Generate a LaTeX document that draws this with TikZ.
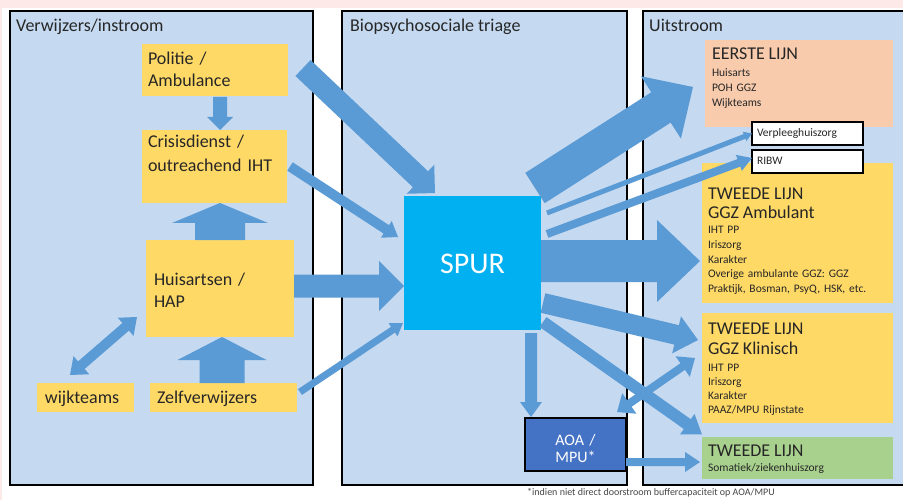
\documentclass[tikz,border=0pt]{standalone}
\usepackage{fontspec}
\setmainfont{Carlito}
\usetikzlibrary{calc}

\definecolor{panelblue}{HTML}{C5D9F0}
\definecolor{boxyellow}{HTML}{FFD966}
\definecolor{boxsalmon}{HTML}{F8CBAD}
\definecolor{boxgreen}{HTML}{A9D18E}
\definecolor{flowblue}{HTML}{5B9BD5}
\definecolor{spurblue}{HTML}{00B0F0}
\definecolor{aoablue}{HTML}{4472C4}
\definecolor{txtdark}{HTML}{262626}
\definecolor{slidepink}{HTML}{FDE9E7}

% block arrow: from, to, half shaft, half head, head length
\newcommand\blockarrow[5]{%
  \coordinate (ba-s) at (#1);
  \coordinate (ba-e) at (#2);
  \coordinate (ba-b) at ($(ba-e)!#5!(ba-s)$);
  \fill[flowblue] ($(ba-s)!#3!90:(ba-e)$) -- ($(ba-b)!#3!90:(ba-e)$)
    -- ($(ba-b)!#4!90:(ba-e)$) -- (ba-e) -- ($(ba-b)!#4!-90:(ba-e)$)
    -- ($(ba-b)!#3!-90:(ba-e)$) -- ($(ba-s)!#3!-90:(ba-e)$) -- cycle;}
% same, with a head on both ends
\newcommand\dblockarrow[5]{%
  \coordinate (ba-s) at (#1);
  \coordinate (ba-e) at (#2);
  \coordinate (ba-b) at ($(ba-e)!#5!(ba-s)$);
  \coordinate (ba-c) at ($(ba-s)!#5!(ba-e)$);
  \fill[flowblue] (ba-s) -- ($(ba-c)!#4!90:(ba-e)$) -- ($(ba-c)!#3!90:(ba-e)$)
    -- ($(ba-b)!#3!90:(ba-e)$) -- ($(ba-b)!#4!90:(ba-e)$) -- (ba-e)
    -- ($(ba-b)!#4!-90:(ba-e)$) -- ($(ba-b)!#3!-90:(ba-e)$)
    -- ($(ba-c)!#3!-90:(ba-e)$) -- ($(ba-c)!#4!-90:(ba-e)$) -- cycle;}
\newcommand\bigline{\fontsize{18}{18}\selectfont}

\begin{document}
\lineskiplimit=-20pt
\begin{tikzpicture}[x=1pt, y=-1pt]
\tikzstyle{panel}=[draw=black, line width=1.5pt, fill=panelblue,
                   anchor=north west, inner sep=0pt, outer sep=0pt]
\tikzstyle{title}=[anchor=base west, inner sep=0pt, text=txtdark,
                   font=\fontsize{18}{20}\selectfont]
\tikzstyle{box}=[anchor=north west, inner ysep=0pt, outer sep=0pt,
                 align=left, text=txtdark]
\tikzstyle{ybox}=[box, fill=boxyellow, font=\fontsize{18}{22}\selectfont]
\tikzstyle{rbox}=[box, inner xsep=6pt, font=\fontsize{11.5}{14.8}\selectfont]
\tikzstyle{wbox}=[box, fill=white, draw=black, line width=1.5pt, inner xsep=5pt,
                  font=\fontsize{11.5}{12}\selectfont]

\useasboundingbox (0,0) rectangle (903,500);
\fill[white] (0,0) rectangle (903,500);
\fill[slidepink] (0,0) rectangle (903,8);
\fill[slidepink] (0,0) rectangle (2,500);

% the three columns
\node[panel, minimum width=303pt, minimum height=474pt] (instroom) at (10,11) {};
\node[panel, minimum width=285pt, minimum height=474pt] (triage) at (342,11) {};
\node[panel, minimum width=290pt, minimum height=474pt] (uitstroom) at (643,11) {};
\node[title] (t-instroom) at (16,32) {Verwijzers/instroom};
\node[title] (t-triage) at (350,32) {Biopsychosociale triage};
\node[title] (t-uitstroom) at (649,32) {Uitstroom};

% verwijzers
\node[ybox, inner xsep=6pt, text width=134pt, text height=21pt, text depth=31pt]
  (politie) at (142,44) {Politie /\\Ambulance};
\node[ybox, inner xsep=6pt, text width=133pt, text height=18pt, text depth=55pt,
  font=\fontsize{18}{24}\selectfont]
  (crisis) at (142,130) {Crisisdienst /\\outreachend IHT};
\node[ybox, inner xsep=8pt, text width=132pt, text height=45pt, text depth=52pt]
  (huisartsen) at (146,240) {Huisartsen /\\HAP};
\node[ybox, inner xsep=8pt, text width=81pt, text height=20pt, text depth=9pt]
  (wijkteams) at (37,383) {wijkteams};
\node[ybox, inner xsep=7pt, text width=133pt, text height=20pt, text depth=9pt]
  (zelf) at (150,383) {Zelfverwijzers};

% triage
\node[box, fill=spurblue, inner xsep=0pt, align=center, text=white,
  text width=137pt, text height=77pt, text depth=57pt, font=\fontsize{30}{30}\selectfont]
  (spur) at (404,196) {SPUR};
\node[box, fill=aoablue, draw=black, line width=1.5pt, inner xsep=0pt, align=center,
  text=white, text width=101pt, text height=27pt, text depth=26pt,
  font=\fontsize{16}{17.5}\selectfont]
  (aoa) at (525,418) {AOA /\\MPU*};
\node[anchor=west, inner sep=0pt, text=txtdark!85, font=\fontsize{10}{11}\selectfont]
  (noot) at (527,493) {*indien niet direct doorstroom buffercapaciteit op AOA/MPU};

% uitstroom
\node[rbox, fill=boxsalmon, inner xsep=7pt, text width=174pt, text height=20pt, text depth=67pt]
  (eerste) at (705,40) {{\bigline EERSTE LIJN}\\[2pt] Huisarts\\ POH GGZ\\ Wijkteams};
\node[rbox, fill=boxyellow, text width=179pt, text height=37pt, text depth=103pt]
  (ambulant) at (702,163) {{\bigline TWEEDE LIJN}\\[3.5pt] {\bigline GGZ Ambulant}\\[0.5pt]
  IHT PP\\ Iriszorg\\ Karakter\\ Overige ambulante GGZ: GGZ\\ Praktijk, Bosman, PsyQ, HSK, etc.};
\node[rbox, fill=boxyellow, text width=179pt, text height=21pt, text depth=89pt,
  font=\fontsize{11.5}{14}\selectfont]
  (klinisch) at (702,313) {{\bigline TWEEDE LIJN}\\[6pt] {\bigline GGZ Klinisch}\\[3.5pt]
  IHT PP\\ Iriszorg\\ Karakter\\ PAAZ/MPU Rijnstate};
\node[rbox, fill=boxgreen, text width=179pt, text height=19pt, text depth=23pt]
  (somatiek) at (702,437) {{\bigline TWEEDE LIJN}\\[1pt] Somatiek/ziekenhuiszorg};
\node[wbox, text width=101pt, text height=15pt, text depth=8pt]
  (verpleeg) at (752,122) {Verpleeghuiszorg};
\node[wbox, text width=101pt, text height=15pt, text depth=8pt]
  (ribw) at (752,150) {RIBW};

% instroom arrows
\blockarrow{[shift={(5,1)}]politie.south}{[shift={(5.5,0)}]crisis.north}{7pt}{13pt}{13pt}
\blockarrow{huisartsen.north}{[shift={(5.5,0)}]crisis.south}{25pt}{48pt}{20pt}
\blockarrow{[shift={(-1.5,0)}]zelf.north}{[shift={(2,0)}]huisartsen.south}{22.5pt}{44.5pt}{23pt}
\dblockarrow{[shift={(-15.5,-8)}]wijkteams.north}{[shift={(-9,28.5)}]huisartsen.west}{5pt}{12pt}{15pt}
\blockarrow{[shift={(15,-2)}]politie.east}{[shift={(31,-3)}]spur.north west}{11pt}{20pt}{20pt}
\blockarrow{[shift={(3,0)}]crisis.east}{[shift={(-6,-26)}]spur.west}{5pt}{10pt}{14pt}
\blockarrow{[shift={(0,-2.5)}]huisartsen.east}{[shift={(0,23)}]spur.west}{11.5pt}{25pt}{25pt}
\blockarrow{[shift={(3,-5.5)}]zelf.east}{[shift={(-1,-7)}]spur.south west}{3.5pt}{8pt}{12pt}

% uitstroom arrows
\blockarrow{[shift={(-6,-8)}]spur.north east}{[shift={(-12,3.5)}]eerste.west}{18pt}{37pt}{38pt}
\blockarrow{[shift={(6,-50)}]spur.east}{verpleeg.west}{2.5pt}{5pt}{8pt}
\blockarrow{[shift={(6,-29)}]spur.east}{[shift={(0,-3.5)}]ribw.west}{4pt}{8.5pt}{14pt}
\blockarrow{[shift={(0,-2)}]spur.east}{[shift={(-2,28)}]ambulant.west}{21pt}{41pt}{43pt}
\blockarrow{[shift={(2,40)}]spur.east}{[shift={(-4,-28)}]klinisch.west}{10pt}{19pt}{22pt}
\blockarrow{[shift={(2,-8)}]spur.south east}{[shift={(0,-23.5)}]somatiek.west}{6pt}{12.5pt}{18pt}
\blockarrow{[shift={(-10,3)}]spur.south east}{[shift={(6,-1)}]aoa.north west}{6pt}{11pt}{15pt}
\dblockarrow{[shift={(-9,-6)}]aoa.north east}{[shift={(-7,-10)}]klinisch.west}{4pt}{12.5pt}{15pt}
\blockarrow{[shift={(0,17.5)}]aoa.east}{[shift={(-2,4)}]somatiek.west}{4pt}{10pt}{15pt}
\end{tikzpicture}
\end{document}
